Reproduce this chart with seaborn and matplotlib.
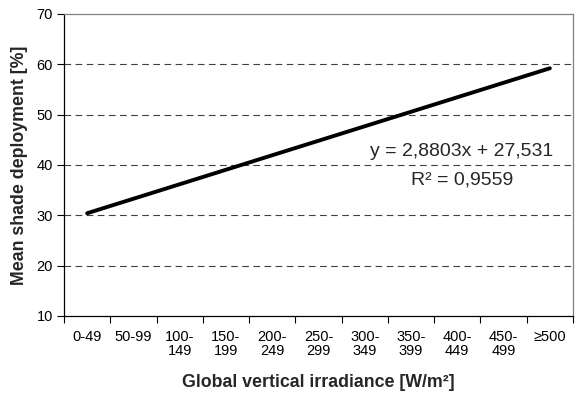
import numpy as np
import pandas as pd
import seaborn as sns
import matplotlib
matplotlib.use("Agg")
import matplotlib.pyplot as plt
from matplotlib.ticker import FixedLocator, NullFormatter

# Irradiance classes (W/m²) on the x axis
categories = ["0-49", "50-99", "100-\n149", "150-\n199", "200-\n249", "250-\n299",
              "300-\n349", "350-\n399", "400-\n449", "450-\n499", "≥500"]
# Linear trend fitted to the mean shade deployment
slope = 2.8803
intercept = 27.531
r_squared = 0.9559
y_ticks = [10, 20, 30, 40, 50, 60, 70]

sns.set_theme(style="white")
plt.rcParams["font.family"] = ["Liberation Sans", "DejaVu Sans"]

x_idx = np.arange(1, len(categories) + 1)
ends = np.array([x_idx[0], x_idx[-1]])
trend = pd.DataFrame({"x": ends, "y": slope * ends + intercept})

fig = plt.figure(figsize=(5.75, 3.94), dpi=100)
ax = fig.add_axes([0.1113, 0.198, 0.9965 - 0.1113, 0.9645 - 0.198])

for v in y_ticks[1:-1]:
    ax.axhline(v, color="#404040", lw=0.8, ls=(0, (6, 4)), zorder=1)

sns.lineplot(data=trend, x="x", y="y", color="black", lw=2.8, ax=ax, zorder=3)

ax.set_xlim(0.5, len(categories) + 0.5)
ax.set_ylim(10, 70)
ax.set_yticks(y_ticks)
ax.set_xticks(x_idx)
ax.set_xticklabels(categories, fontsize=10.5, color="black", multialignment="center",
                   linespacing=1.05)
ax.xaxis.set_minor_locator(FixedLocator(np.arange(0.5, len(categories) + 1, 1.0)))
ax.xaxis.set_minor_formatter(NullFormatter())
ax.tick_params(axis="x", which="major", length=0, pad=10)
ax.tick_params(axis="x", which="minor", length=5, width=0.8, color="black", direction="out", bottom=True)
ax.tick_params(axis="y", which="major", length=5, width=0.8, color="black", direction="out",
               left=True, labelsize=10.5, labelcolor="black", pad=3)

for side in ["left", "bottom"]:
    ax.spines[side].set_color("black")
    ax.spines[side].set_linewidth(0.9)
for side in ["top", "right"]:
    ax.spines[side].set_color("#808080")
    ax.spines[side].set_linewidth(0.9)

ax.set_xlabel("Global vertical irradiance [W/m²]", fontsize=12.8, fontweight="bold", labelpad=11)
ax.set_ylabel("Mean shade deployment [%]", fontsize=12.8, fontweight="bold", labelpad=6)

ax.text(9.1, 42.6, "y = 2,8803x + 27,531", ha="center", va="center", fontsize=14)
ax.text(9.1, 37.0, "R² = 0,9559", ha="center", va="center", fontsize=14)

fig.savefig("out.png", dpi=100)
